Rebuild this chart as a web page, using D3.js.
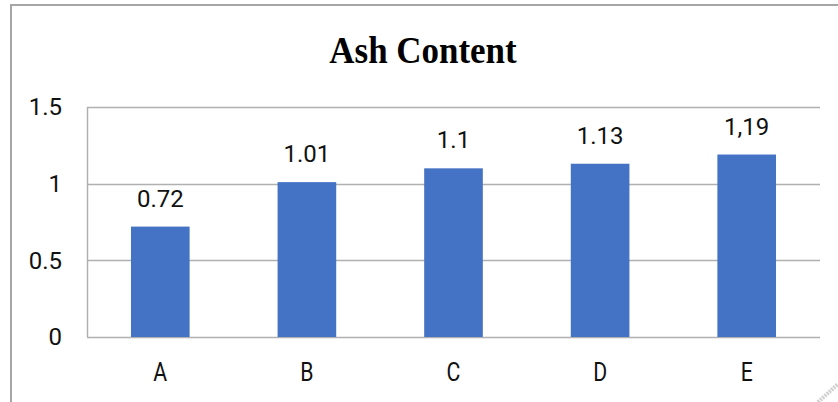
<!DOCTYPE html>
<html>
<head>
  <meta charset="utf-8">
  <title>Ash Content</title>
  <script src="https://d3js.org/d3.v7.min.js"></script>
  <style>
    body { margin: 0; background: #fff; }
    svg { display: block; }
  </style>
</head>
<body>
<div id="vis"></div>
<script>
  // data
  var samples = ["A", "B", "C", "D", "E"];
  var ash = [0.72, 1.01, 1.1, 1.13, 1.19];
  var ashLabels = ["0.72", "1.01", "1.1", "1.13", "1,19"];
  var yTicks = [0, 0.5, 1, 1.5];

  var W = 838, H = 402;
  var plotLeft = 87, plotRight = 820, plotTop = 107, plotBottom = 337;

  var svg = d3.select("#vis").append("svg")
    .attr("width", W)
    .attr("height", H);

  // outer frame (only top and left edges show)
  svg.append("line")
    .attr("x1", 10).attr("x2", W).attr("y1", 5).attr("y2", 5)
    .attr("stroke", "#a6a6a6").attr("stroke-width", 2);
  svg.append("line")
    .attr("x1", 11).attr("x2", 11).attr("y1", 5).attr("y2", H)
    .attr("stroke", "#a6a6a6").attr("stroke-width", 2);

  // title (a bit condensed like the original)
  svg.append("text")
    .attr("transform", "translate(423,63) scale(0.92,1)")
    .attr("text-anchor", "middle")
    .style("font-family", "'Liberation Serif', 'Times New Roman', serif")
    .style("font-weight", "bold")
    .style("font-size", "38px")
    .text("Ash Content");

  var x = d3.scaleBand()
    .domain(samples)
    .range([plotLeft, plotRight])
    .paddingInner(0.6)
    .paddingOuter(0.3);

  var y = d3.scaleLinear()
    .domain([0, 1.5])
    .range([plotBottom, plotTop]);

  // gridlines
  svg.append("g")
    .selectAll("line")
    .data(yTicks)
    .enter().append("line")
    .attr("x1", plotLeft)
    .attr("x2", plotRight)
    .attr("y1", function(d) { return Math.round(y(d)) + 0.5; })
    .attr("y2", function(d) { return Math.round(y(d)) + 0.5; })
    .attr("stroke", "#b0b0b0")
    .attr("stroke-width", 1.5);

  // left axis line
  svg.append("line")
    .attr("x1", plotLeft + 0.5).attr("x2", plotLeft + 0.5)
    .attr("y1", y(1.5)).attr("y2", y(0))
    .attr("stroke", "#b0b0b0")
    .attr("stroke-width", 1.5);

  // y tick labels
  svg.append("g")
    .selectAll("text")
    .data(yTicks)
    .enter().append("text")
    .attr("x", 62)
    .attr("y", function(d) { return y(d); })
    .attr("dy", "0.35em")
    .attr("text-anchor", "end")
    .style("font-family", "Roboto, sans-serif")
    .style("font-size", "24px")
    .attr("fill", "#111")
    .text(function(d) { return d; });

  // bars
  svg.selectAll(".bar")
    .data(samples)
    .enter().append("rect")
    .attr("class", "bar")
    .attr("x", function(d) { return x(d); })
    .attr("width", x.bandwidth())
    .attr("y", function(d, i) { return y(ash[i]); })
    .attr("height", function(d, i) { return y(0) - y(ash[i]); })
    .attr("fill", "#4472c4");

  // value labels
  svg.selectAll(".val")
    .data(samples)
    .enter().append("text")
    .attr("class", "val")
    .attr("x", function(d) { return x(d) + x.bandwidth() / 2; })
    .attr("y", function(d, i) { return y(ash[i]) - 20; })
    .attr("text-anchor", "middle")
    .style("font-family", "Roboto, sans-serif")
    .style("font-size", "24px")
    .attr("fill", "#111")
    .text(function(d, i) { return ashLabels[i]; });

  // category labels (narrower font in the original)
  svg.selectAll(".cat")
    .data(samples)
    .enter().append("text")
    .attr("class", "cat")
    .attr("transform", function(d) {
      return "translate(" + (x(d) + x.bandwidth() / 2) + ",381) scale(0.85,1)";
    })
    .attr("text-anchor", "middle")
    .style("font-family", "Roboto, sans-serif")
    .style("font-size", "25px")
    .attr("fill", "#111")
    .text(function(d) { return d; });

  // faint scan mark in the bottom right corner
  svg.append("line")
    .attr("x1", 818).attr("y1", 402)
    .attr("x2", 838).attr("y2", 384)
    .attr("stroke", "#cfcfcf")
    .attr("stroke-width", 4)
    .attr("stroke-dasharray", "2,1");
</script>
</body>
</html>
